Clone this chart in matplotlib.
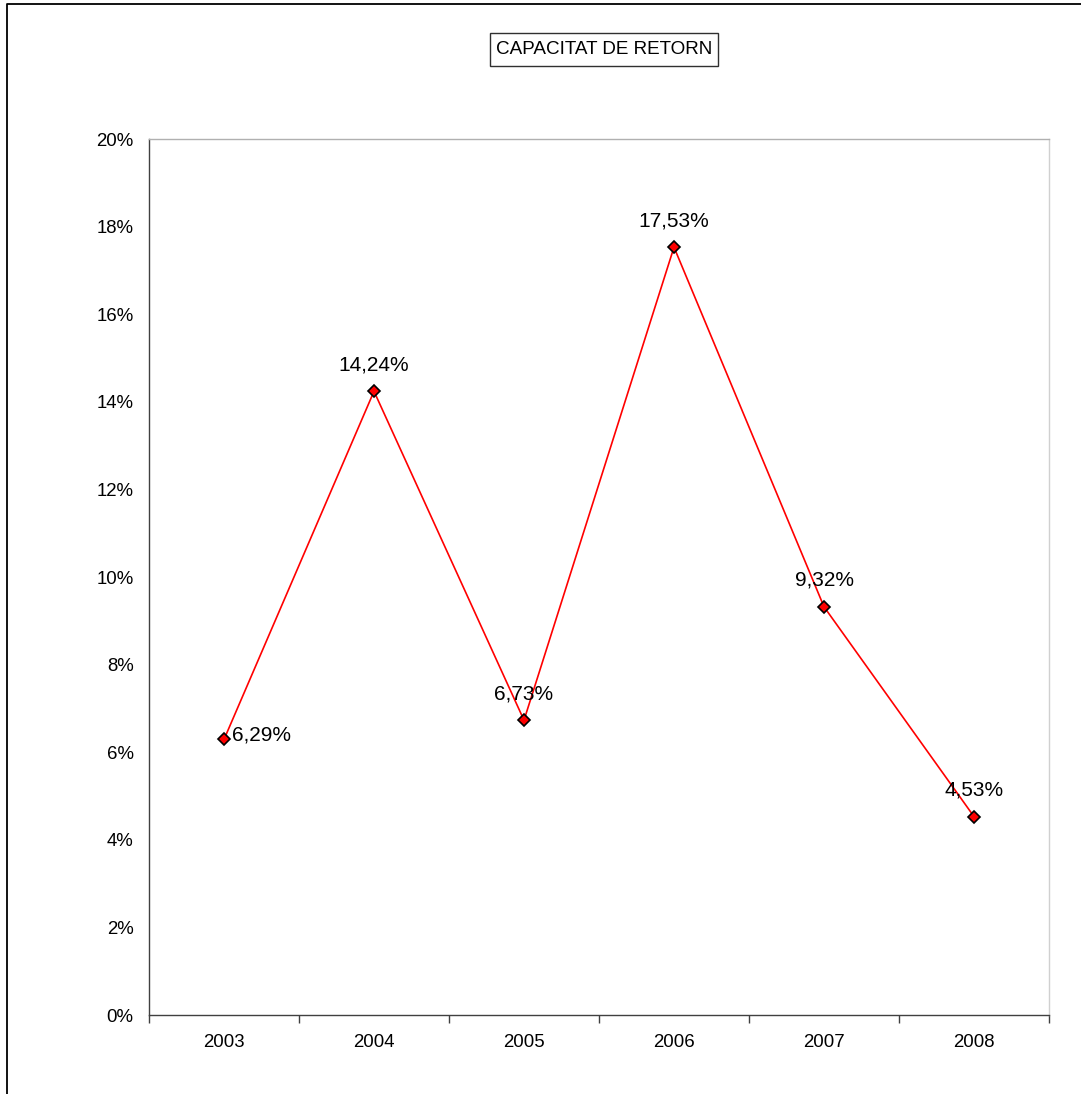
import matplotlib
matplotlib.use("Agg")
import matplotlib.pyplot as plt
from matplotlib.lines import Line2D
from matplotlib.patches import Rectangle
from matplotlib.ticker import FuncFormatter, FixedLocator

plt.rcParams['font.family'] = ['Liberation Sans', 'DejaVu Sans']

years = ['2003', '2004', '2005', '2006', '2007', '2008']
values = [0.0629, 0.1424, 0.0673, 0.1753, 0.0932, 0.0453]
labels = ['6,29%', '14,24%', '6,73%', '17,53%', '9,32%', '4,53%']
# where each data label sits relative to its point
label_side = ['right', 'above', 'above', 'above', 'above', 'above']

W, H = 1081, 1094
fig = plt.figure(figsize=(W / 100, H / 100), dpi=100)
ax = fig.add_axes([149 / W, 79 / H, 900 / W, 876 / H])

x = list(range(len(years)))
ax.plot(x, values, color='#ff0000', lw=1.2, marker='D', ms=6.5,
        mfc='#ff0000', mec='black', mew=1.2, zorder=3)

for xi, v, lab, side in zip(x, values, labels, label_side):
    if side == 'right':
        ax.annotate(lab, (xi, v), xytext=(6, -0.5), textcoords='offset points',
                    ha='left', va='baseline', fontsize=15)
    else:
        ax.annotate(lab, (xi, v), xytext=(0, 15), textcoords='offset points',
                    ha='center', va='baseline', fontsize=15)

ax.set_xlim(-0.5, len(years) - 0.5)
ax.set_ylim(0, 0.20)
ax.yaxis.set_major_locator(FixedLocator([i * 0.02 for i in range(11)]))
ax.yaxis.set_major_formatter(FuncFormatter(lambda v, p: f"{v * 100:.0f}%"))
ax.tick_params(axis='y', length=0, pad=11, labelsize=13.4)

ax.set_xticks([i - 0.5 for i in range(len(years) + 1)])
ax.set_xticklabels([])
ax.set_xticks(x, minor=True)
ax.set_xticklabels(years, minor=True)
ax.tick_params(axis='x', which='major', length=6, width=1, color='#404040', direction='out')
ax.tick_params(axis='x', which='minor', length=0, pad=14, labelsize=13.4)

ax.spines['left'].set_color('#404040')
ax.spines['bottom'].set_color('#404040')
ax.spines['top'].set_color('#b0b0b0')
ax.spines['right'].set_color('#d0d0d0')
for s in ax.spines.values():
    s.set_linewidth(1)

# title with its box
fig.add_artist(Rectangle((490 / W, 1 - 66 / H), 228 / W, 33 / H, transform=fig.transFigure,
                         fc='white', ec='#303030', lw=1))
fig.text(604 / W, 1 - 49.5 / H, 'CAPACITAT DE RETORN', ha='center', va='center',
         fontsize=13.6)

# outer chart border (only left and top edges are visible in the original)
fx0, fy1 = 7.5 / W, 1 - 3.5 / H
fig.add_artist(Line2D([fx0, fx0, 1], [0, fy1, fy1],
                      transform=fig.transFigure, color='black', lw=1.3))

fig.savefig('out.png', dpi=100)
